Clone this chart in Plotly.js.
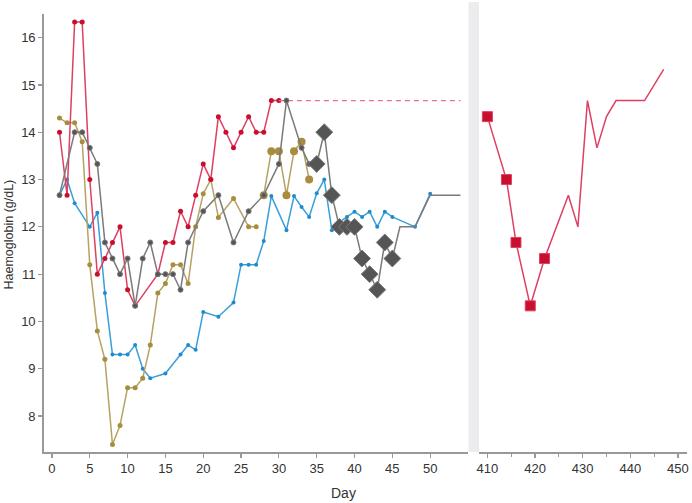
<!DOCTYPE html>
<html>
<head>
<meta charset="utf-8">
<script src="https://cdn.plot.ly/plotly-3.0.1.min.js"></script>
<style>html,body{margin:0;padding:0;background:#fff}#chart{width:692px;height:503px}</style>
</head>
<body>
<div id="chart"></div>
<script>
// ---- data ----
const redDays = [1,2,3,4,5,6,7,8,9,10,11,14,15,16,17,18,19,20,21,22,23,24,25,26,27,28,29,30];
const redHb   = [14.0,12.67,16.33,16.33,13.0,11.0,11.33,11.67,12.0,10.67,10.33,11.0,11.67,11.67,12.33,12.0,12.67,13.33,13.0,14.33,14.0,13.67,14.0,14.33,14.0,14.0,14.67,14.67];
const redDashDays = [30,54];
const redDashHb   = [14.67,14.67];
const redLateDays = [410,414,416,419,422,427,429,431,433,435,437,443,447];
const redLateHb   = [14.33,13.0,11.67,10.33,11.33,12.67,12.0,14.67,13.67,14.33,14.67,14.67,15.33];
const redLateMarked = [true,true,true,true,true,false,false,false,false,false,false,false,false];

const greyDays = [1,3,4,5,6,7,8,9,10,11,12,13,14,15,16,17,18,20,22,24,26,28,30,31,33,34,35,36,37,38,39,40,41,42,43,44,45,46,48,50,54];
const greyHb   = [12.67,14.0,14.0,13.67,13.33,11.67,11.33,11.0,11.33,10.33,11.33,11.67,11.0,11.0,11.0,10.67,11.67,12.33,12.67,11.67,12.33,12.67,13.33,14.67,13.67,13.33,13.33,14.0,12.67,12.0,12.0,12.0,11.33,11.0,10.67,11.67,11.33,12.0,12.0,12.67,12.67];
const greyPhase = ['s','s','s','s','s','s','s','s','s','s','s','s','s','s','s','s','s','s','s','s','s','s','s','s','s','s','d','d','d','d','d','d','d','d','d','d','d','n','n','n','n'];

const oliveDays = [1,2,3,4,5,6,7,8,9,10,11,12,13,14,15,16,17,18,19,20,21,22,24,26,27];
const oliveHb   = [14.3,14.2,14.2,13.8,11.2,9.8,9.2,7.4,7.8,8.6,8.6,8.8,9.5,10.6,10.8,11.2,11.2,10.8,12.0,12.7,13.0,12.2,12.6,12.0,12.0];
const oliveLateDays = [28,29,30,31,32,33,34];
const oliveLateHb   = [12.67,13.6,13.6,12.67,13.6,13.8,13.0];

const blueDays = [1,2,3,5,6,7,8,9,10,11,12,13,15,17,18,19,20,22,24,25,26,27,28,29,31,32,33,34,35,36,37,38,39,40,41,42,43,44,45,48,50];
const blueHb   = [12.67,13.0,12.5,12.0,12.3,10.6,9.3,9.3,9.3,9.5,9.0,8.8,8.9,9.3,9.5,9.4,10.2,10.1,10.4,11.2,11.2,11.2,11.7,12.65,11.93,12.65,12.42,12.21,12.71,13.0,11.93,12.1,12.21,12.32,12.21,12.32,12.0,12.32,12.21,12.0,12.7];

const xTicksLeft = [0,5,10,15,20,25,30,35,40,45,50];
const xTicksRight = [410,420,430,440,450];
const yTicks = [8,9,10,11,12,13,14,15,16];

// ---- styles ----
const RED_LINE = '#de3f62', RED_MK = '#c8102e';
const OLIVE_LINE = '#b7a263', OLIVE_MK = '#a88d3e';
const BLUE_LINE = '#3a9fd9', BLUE_MK = '#1e8ccc';
const GREY_LINE = '#7a7a7a', GREY_MK = '#555555';

const traces = [
  {x: blueDays, y: blueHb, mode: 'lines+markers', xaxis: 'x', yaxis: 'y',
   line: {color: BLUE_LINE, width: 1.5}, marker: {color: BLUE_MK, size: 4, opacity: 1}},
  {x: oliveDays, y: oliveHb, mode: 'lines+markers', xaxis: 'x', yaxis: 'y',
   line: {color: OLIVE_LINE, width: 1.5}, marker: {color: OLIVE_MK, size: 5, opacity: 1}},
  {x: oliveLateDays, y: oliveLateHb, mode: 'lines+markers', xaxis: 'x', yaxis: 'y',
   line: {color: OLIVE_LINE, width: 1.5}, marker: {color: OLIVE_MK, size: 8, opacity: 1}},
  {x: redDays, y: redHb, mode: 'lines+markers', xaxis: 'x', yaxis: 'y',
   line: {color: RED_LINE, width: 1.5}, marker: {color: RED_MK, size: 5, opacity: 1}},
  {x: redDashDays, y: redDashHb, mode: 'lines', xaxis: 'x', yaxis: 'y',
   line: {color: '#e8708a', width: 1.3, dash: '5px,4px'}},
  {x: greyDays, y: greyHb, mode: 'lines+markers', xaxis: 'x', yaxis: 'y',
   line: {color: GREY_LINE, width: 1.5},
   marker: {color: GREY_MK, opacity: 1,
            symbol: greyPhase.map(p => p === 'd' ? 'diamond' : 'circle'),
            size: greyPhase.map(p => p === 'd' ? 13 : (p === 's' ? 5 : 0))}},
  {x: redLateDays, y: redLateHb, mode: 'lines+markers', xaxis: 'x2', yaxis: 'y',
   line: {color: RED_LINE, width: 1.5},
   marker: {color: RED_MK, opacity: 1, symbol: 'square', size: redLateMarked.map(m => m ? 10 : 0)}}
];

const axFont = {family: 'Liberation Sans, Arial, sans-serif', size: 13, color: '#333'};
const L = 44, R = 5, T = 14, B = 51, W = 692, H = 503;
const pw = W - L - R, ph = H - T - B;
const px = v => (v - L) / pw;
const py = v => (H - B - v) / ph;

const layout = {
  width: W, height: H,
  margin: {l: L, r: R, t: T, b: B, pad: 0},
  paper_bgcolor: '#fff', plot_bgcolor: 'rgba(0,0,0,0)',
  showlegend: false,
  font: axFont,
  xaxis: {domain: [0, px(468)], range: [-1.05, 55], anchor: 'y',
          tickvals: xTicksLeft, ticks: 'outside', ticklen: 4, tickwidth: 1.2, tickcolor: '#999',
          showline: true, linecolor: '#999', linewidth: 1.8, showgrid: false, zeroline: false,
          tickfont: axFont},
  xaxis2: {domain: [px(479.3), 1], range: [408.3, 451.9], anchor: 'y',
          tickvals: xTicksRight, ticks: 'outside', ticklen: 4, tickwidth: 1.2, tickcolor: '#999',
          minor: {dtick: 5, tick0: 0, ticks: 'outside', ticklen: 3, tickcolor: '#999', tickwidth: 1},
          showline: true, linecolor: '#999', linewidth: 1.8, showgrid: false, zeroline: false,
          tickfont: axFont},
  yaxis: {range: [7.24, 16.5], tickvals: yTicks, ticks: 'outside', ticklen: 4, tickwidth: 1.2, tickcolor: '#999',
          showline: true, linecolor: '#999', linewidth: 1.8, showgrid: false, zeroline: false,
          tickfont: axFont},
  shapes: [
    {type: 'rect', xref: 'paper', yref: 'paper', x0: px(468.5), x1: px(479), y0: 0, y1: py(2),
     fillcolor: '#ececee', line: {width: 0}, layer: 'below'}
  ],
  annotations: [
    {text: 'Haemoglobin (g/dL)', xref: 'paper', yref: 'paper', x: px(8), y: py(234.5),
     xanchor: 'center', yanchor: 'middle', textangle: -90, showarrow: false,
     font: {family: axFont.family, size: 12.5, color: '#333'}},
    {text: 'Day', xref: 'paper', yref: 'paper', x: px(343), y: py(493),
     xanchor: 'center', yanchor: 'middle', showarrow: false,
     font: {family: axFont.family, size: 14, color: '#333'}}
  ]
};

Plotly.newPlot('chart', traces, layout, {displayModeBar: false, staticPlot: true});
</script>
</body>
</html>
